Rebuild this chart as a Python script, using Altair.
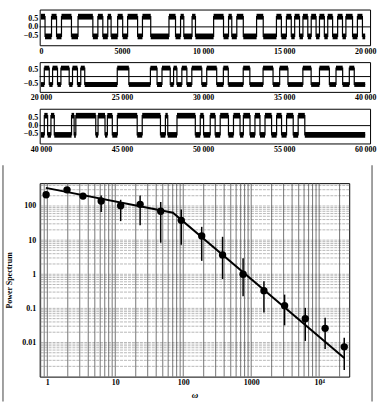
import altair as alt
import pandas as pd

# ---------------- time-series (two-state switching signal) ----------------
HIGH, LOW = 0.6, -0.56   # levels of the two states

p1_t = [0, 250, 650, 960, 1265, 1880, 2285, 3200, 3510, 3815, 4120, 4325, 4730, 5040,
        5345, 5960, 6260, 6770, 7895, 8300, 8610, 8810, 9320, 9530, 10650, 11260,
        11570, 11770, 12080, 12480, 13300, 13710, 14525, 14830, 15140, 15440, 15650,
        15950, 16160, 16460, 16670, 16970, 17180, 17480, 17690, 17990, 18300, 18600,
        18810, 19220, 19520, 19830]
p1_s = list("HLHLHLHLHL" "HLHLHLHLHL" "HLHLHLHLHL" "HLHLHLHLHL" "HLHLHLHLHL" "HL")

p2_t = [20000, 20205, 20510, 20715, 21020, 21230, 21740, 21945, 22250, 22455, 22700,
        24705, 25420, 26750, 27160, 27465, 27975, 28180, 28385, 28690, 29000, 29305,
        29920, 30225, 30840, 31250, 31555, 32475, 32885, 33700, 34315, 34725, 35235,
        36155, 36665, 37180, 37790, 38200, 38610, 39020, 39325]
p2_s = list("LHLHLHLHLH" "LHLHLHLHLH" "LHLHLHLHLH" "LHLHLHLHLH" "L")

p3_t = [40000, 40205, 40410, 40615, 40820, 41885, 42045, 42150, 43380, 43520, 43950,
        44095, 44400, 44710, 45935, 46245, 47370, 47675, 47820, 48390, 49520, 49825,
        50030, 50440, 50745, 51055, 51565, 51875, 52280, 52485, 52895, 53200, 53510,
        53820, 54225, 54535, 54840, 55150, 55560, 55865, 56275]
p3_s = list("LHLHLHLHLH" "LHLHLHLHLH" "LHLHLHLHLH" "LHLHLHLHLH" "L")

# ---------------- power spectrum ----------------
omega = [0.96, 1.95, 3.35, 6.2, 12.0, 23.2, 46.6, 93.5, 187, 379, 760, 1540, 3100,
         6250, 12240, 23400]
power = [213, 298, 195, 140, 102, 112, 70, 38, 13.2, 3.69, 1.0, 0.33, 0.12, 0.0495,
         0.026, 0.00745]
err_hi = [225, 315, 210, 204, 152, 204, 131, 79, 24.5, 12.5, 2.94, 0.62, 0.253,
          0.1035, 0.053, 0.0138]
err_lo = [200, 282, 182, 67, 36, 27.5, 8.4, 7.3, 2.47, 0.72, 0.226, 0.076, 0.0318,
          0.0111, 0.0064, 0.00157]
fit_omega = [0.95, 70.5, 23400]
fit_power = [340, 63.8, 0.00349]

x_ticks = [1, 10, 100, 1000, 10000]
y_ticks = [0.01, 0.1, 1, 10, 100]

FONT = "Liberation Serif"


def panel(times, states, t0, h):
    t_end = t0 + 20000
    ends = times[1:] + [t_end]
    levels = [HIGH if s == "H" else LOW for s in states]
    seg = pd.DataFrame({"start": times, "end": ends, "level": levels})
    seg["lo"] = seg["level"] - 0.17
    seg["hi"] = seg["level"] + 0.17
    stp = pd.DataFrame({"t": times + [t_end], "level": levels + [levels[-1]]})
    xs = alt.Scale(domain=[t0 - 80, t0 + 20300], nice=False, zero=False)
    ys = alt.Scale(domain=[-1.08, 1.02], nice=False)
    xax = alt.Axis(values=list(range(t0, t0 + 20001, 5000)), grid=False, ticks=False,
                   labelPadding=2, labelFlush=False, title=None,
                   labelExpr="datum.value >= 10000 ? replace(format(datum.value, ','), ',', '\u2009') : format(datum.value, 'd')")
    yax = alt.Axis(values=[0.5, 0, -0.5], format=".1f", grid=False, ticks=False,
                   labelPadding=2, title=None, minExtent=27, maxExtent=27)
    band = alt.Chart(seg).mark_rect(color="black").encode(
        x=alt.X("start:Q", scale=xs, axis=xax), x2="end:Q",
        y=alt.Y("lo:Q", scale=ys, axis=yax), y2="hi:Q")
    step = alt.Chart(stp).mark_line(interpolate="step-after", color="black",
                                    strokeWidth=1.2).encode(
        x=alt.X("t:Q", scale=xs, axis=xax), y=alt.Y("level:Q", scale=ys, axis=yax))
    zero = alt.Chart(pd.DataFrame({"z": [0]})).mark_rule(color="black", strokeWidth=1).encode(
        y=alt.Y("z:Q", scale=ys, axis=yax))
    return alt.layer(band, step, zero).properties(width=333, height=h)


top = alt.vconcat(panel(p1_t, p1_s, 0, 36), panel(p2_t, p2_s, 20000, 30),
                  panel(p3_t, p3_s, 40000, 35), spacing=5)

# ---------------- spectrum chart ----------------
spec = pd.DataFrame({"omega": omega, "power": power, "lo": err_lo, "hi": err_hi})
fit = pd.DataFrame({"omega": fit_omega, "power": fit_power})
gx = [m * 10 ** k for k in range(-1, 5) for m in range(1, 10) if 0.772 <= m * 10 ** k <= 27700]
gy = [m * 10 ** k for k in range(-3, 3) for m in range(1, 10) if 0.001 < m * 10 ** k <= 467]

xsc = alt.Scale(type="log", domain=[0.772, 27700], nice=False)
ysc = alt.Scale(type="log", domain=[0.001, 467], nice=False)
xa = alt.Axis(values=x_ticks, grid=False, ticks=False, labelPadding=2, labelFlush=False,
              labelExpr="datum.value == 10000 ? '10\u2074' : format(datum.value, 'd')",
              title="\u03c9", titleFontStyle="italic", titleFontSize=9, titlePadding=4)
ya = alt.Axis(values=y_ticks, grid=False, ticks=False, labelPadding=4,
              labelExpr="format(datum.value, '~g')", title="Power Spectrum",
              titleFontSize=8, titlePadding=6, minExtent=20, maxExtent=20)

X = lambda f: alt.X(f, scale=xsc, axis=xa)
Y = lambda f: alt.Y(f, scale=ysc, axis=ya)

hgrid = alt.Chart(pd.DataFrame({"g": gy})).mark_rule(
    color="#9a9a9a", strokeWidth=0.7, strokeDash=[3, 1]).encode(y=Y("g:Q"))
vgrid = alt.Chart(pd.DataFrame({"g": gx})).mark_rule(
    color="#555555", strokeWidth=0.8).encode(x=X("g:Q"))
bars = alt.Chart(spec).mark_rule(color="black", strokeWidth=1.5).encode(
    x=X("omega:Q"), y=Y("lo:Q"), y2="hi:Q")
line = alt.Chart(fit).mark_line(color="black", strokeWidth=2).encode(
    x=X("omega:Q"), y=Y("power:Q"))
dots = alt.Chart(spec).mark_circle(color="black", size=55, opacity=1).encode(
    x=X("omega:Q"), y=Y("power:Q"))
one = pd.DataFrame({"a": [0]})
edge_l = alt.Chart(one).mark_rule(color="#808080", strokeWidth=1.5).encode(
    x=alt.value(-37), y=alt.value(-18), y2=alt.value(220))
edge_r = alt.Chart(one).mark_rule(color="#808080", strokeWidth=1.5).encode(
    x=alt.value(335), y=alt.value(-18), y2=alt.value(220))

bottom = alt.layer(hgrid, vgrid, bars, line, dots, edge_l, edge_r).properties(
    width=312, height=195)

chart = alt.concat(top, bottom, columns=1, align="none", spacing=9).properties(
    padding={"left": 1, "top": 7, "right": 0, "bottom": 0},
    background="white",
).configure_view(stroke="black", strokeWidth=1).configure_axis(
    labelFont=FONT, titleFont=FONT, labelFontSize=8, labelFontWeight="bold",
    titleFontWeight="bold", labelColor="black", titleColor="black",
    domain=False,
)

chart.save("out.html", embed_options={"renderer": "svg", "actions": False})
